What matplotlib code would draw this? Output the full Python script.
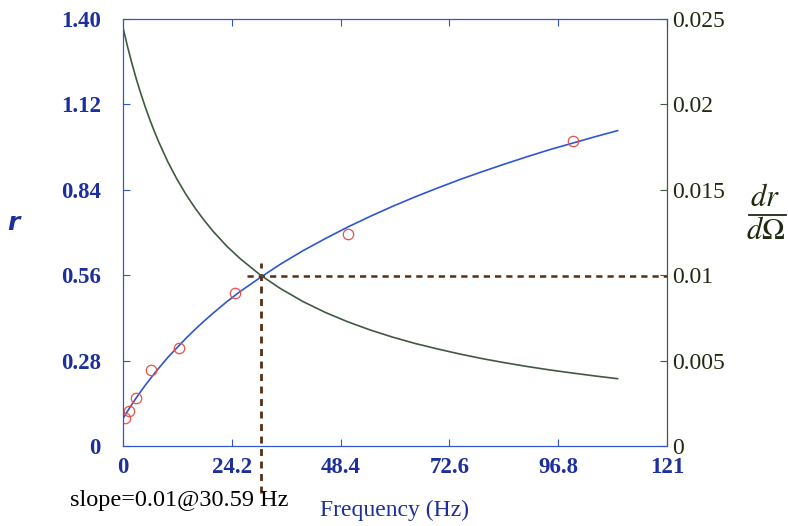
import matplotlib
matplotlib.use("Agg")
import matplotlib.pyplot as plt
from matplotlib.lines import Line2D

# valeurs
freq_pts = [0.44, 1.4, 2.9, 6.2, 12.5, 24.9, 50.0, 100.1]
r_pts = [0.092, 0.115, 0.157, 0.249, 0.321, 0.502, 0.695, 1.000]

freq_fit = [0, 1, 2, 3, 4, 5, 6, 7, 8, 10, 12, 14, 16, 18, 20, 23, 26, 30.59, 35, 40,
            45, 50, 55, 60, 65, 70, 75, 80, 85, 90, 95, 100, 105, 110]
r_fit = [0.090, 0.114, 0.137, 0.159, 0.180, 0.200, 0.219, 0.238, 0.256, 0.291,
         0.322, 0.353, 0.382, 0.409, 0.435, 0.472, 0.506, 0.553, 0.596, 0.640,
         0.680, 0.718, 0.753, 0.786, 0.817, 0.846, 0.874, 0.900, 0.925, 0.949,
         0.972, 0.993, 1.014, 1.034]
slope_fit = [0.02450, 0.02339, 0.02238, 0.02145, 0.02060, 0.01981, 0.01908, 0.01840,
             0.01777, 0.01662, 0.01562, 0.01473, 0.01394, 0.01323, 0.01258, 0.01172,
             0.01098, 0.01000, 0.00922, 0.00846, 0.00782, 0.00727, 0.00679, 0.00637,
             0.00600, 0.00568, 0.00538, 0.00511, 0.00487, 0.00465, 0.00445, 0.00427,
             0.00410, 0.00394]

x_ticks = [0, 24.2, 48.4, 72.6, 96.8, 121]
r_ticks = [0, 0.28, 0.56, 0.84, 1.12, 1.40]
s_ticks = [0, 0.005, 0.01, 0.015, 0.02, 0.025]

slope_sel = 0.01
freq_sel = 30.59
r_sel = 0.558

BLUE = "#2f55d4"
DBLUE = "#1c2f9c"
GREEN = "#3f5a40"
DGREEN = "#1f2a10"
BROWN = "#5a2f10"

plt.rcParams["font.family"] = ["Liberation Serif", "DejaVu Serif"]
plt.rcParams["mathtext.fontset"] = "stix"

fig = plt.figure(figsize=(7.88, 5.26), dpi=100)
ax = fig.add_axes([0.1561, 0.1521, 0.6904, 0.8118])
ax2 = ax.twinx()

ax.plot(freq_fit, r_fit, color=BLUE, lw=1.2, zorder=3)
ax.plot(freq_pts, r_pts, "o", mfc="none", mec="#e8504a", ms=7.5, mew=0.9, zorder=4)
ax2.plot(freq_fit, slope_fit, color=GREEN, lw=1.2)

# lignes pointillées
ax.plot([freq_sel, freq_sel], [-0.154, 0.60], ls=(0, (2.5, 2)), color=BROWN,
        lw=2.0, clip_on=False, zorder=5)
ax.plot([27.5, 121], [r_sel, r_sel], ls=(0, (2.5, 2)), color=BROWN,
        lw=1.8, clip_on=False, zorder=5)

ax.set_xlim(0, 121)
ax.set_ylim(0, 1.40)
ax2.set_ylim(0, 0.025)
ax.set_xticks(x_ticks)
ax.set_xticklabels(["0", "24.2", "48.4", "72.6", "96.8", "121"])
ax.set_yticks(r_ticks)
ax.set_yticklabels(["0", "0.28", "0.56", "0.84", "1.12", "1.40"])
ax2.set_yticks(s_ticks)
ax2.set_yticklabels(["0", "0.005", "0.01", "0.015", "0.02", "0.025"])

ax.tick_params(axis="x", direction="in", length=5, color=BLUE, labelcolor=DBLUE,
               labelsize=16.5, pad=8, top=True)
ax.tick_params(axis="y", direction="in", length=5, color=BLUE, labelcolor=DBLUE,
               labelsize=16.5, pad=16)
ax2.tick_params(axis="y", direction="in", length=5, color=GREEN, labelcolor=DGREEN,
                labelsize=17, pad=4)
for lab in ax.get_xticklabels() + ax.get_yticklabels():
    lab.set_fontweight("bold")

for s in ["left", "top", "bottom"]:
    ax.spines[s].set_color(BLUE)
    ax2.spines[s].set_color(BLUE)
ax2.spines["right"].set_color(GREEN)
ax.spines["right"].set_color(GREEN)

fig.text(0.0165, 0.576, "r", color=DBLUE, fontsize=18, style="italic",
         weight="bold", family="DejaVu Sans", ha="center", va="center")

# dr / dOmega en fraction
fig.text(0.971, 0.622, "$dr$", color=DGREEN, fontsize=22, ha="center", va="center")
fig.text(0.971, 0.560, r"$d\Omega$", color=DGREEN, fontsize=22, ha="center",
         va="center")
fig.add_artist(Line2D([0.950, 0.998], [0.591, 0.591], transform=fig.transFigure,
                      color=DGREEN, lw=1.3))

fig.text(0.500, 0.030, "Frequency (Hz)", color=DBLUE, fontsize=17, ha="center",
         va="center")
fig.text(0.089, 0.048, "slope=%g@%.2f Hz" % (slope_sel, freq_sel), color="black",
         fontsize=17.5, ha="left", va="center")

fig.savefig("out.png", dpi=100)
